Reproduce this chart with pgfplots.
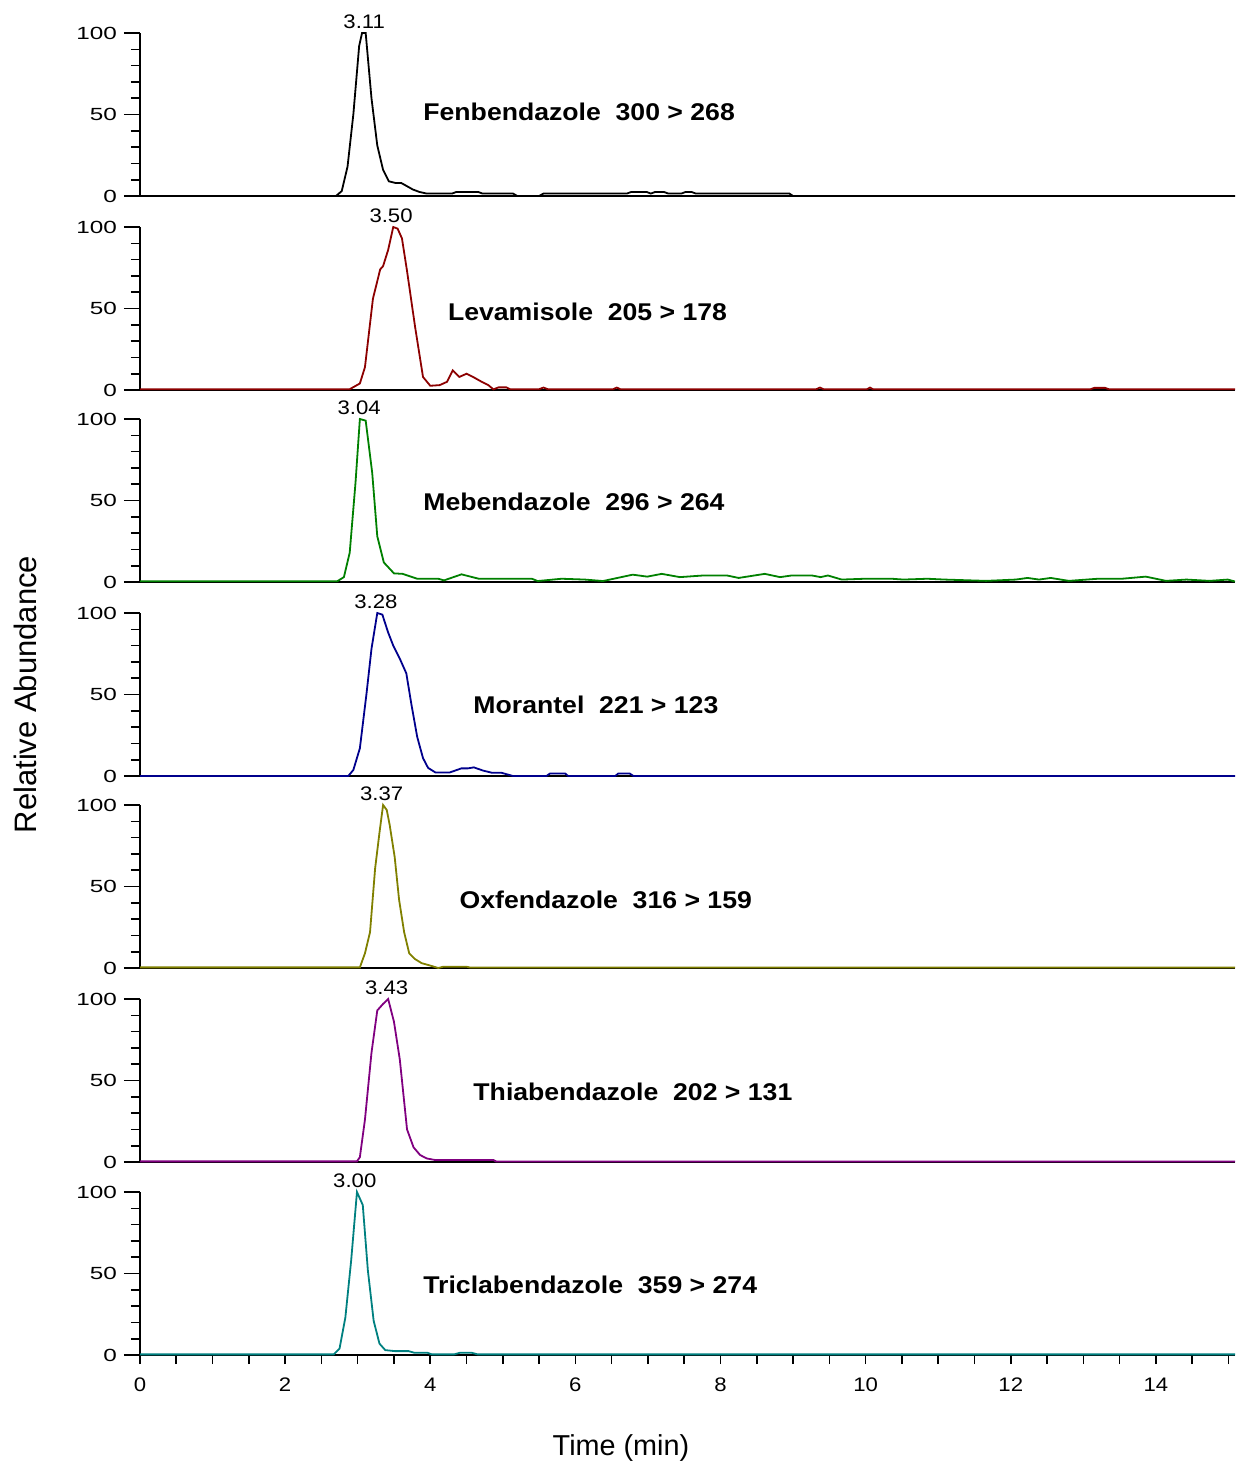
\documentclass[border=0pt]{standalone}
\usepackage{pgfplots}
\pgfplotsset{compat=1.18}
\usepackage{fontspec}
\setmainfont{Liberation Sans}
\newfontfamily\tickfont[FakeStretch=1.38]{Liberation Sans}
\newfontfamily\peakfont[FakeStretch=1.13]{Liberation Sans}
\newfontfamily\namefont[FakeStretch=1.1]{Liberation Sans}

\definecolor{cFen}{RGB}{0,0,0}
\definecolor{cLev}{RGB}{140,0,0}
\definecolor{cMeb}{RGB}{0,128,0}
\definecolor{cMor}{RGB}{0,0,140}
\definecolor{cOxf}{RGB}{128,128,0}
\definecolor{cThi}{RGB}{128,0,128}
\definecolor{cTri}{RGB}{0,128,128}

\pgfplotsset{
  panel/.style={
    scale only axis, width=547.5pt, height=81.5pt,
    xmin=0, xmax=15.09, ymin=0, ymax=100,
    axis x line*=bottom, axis y line*=left,
    axis line style={line width=1pt,-},
    ytick={0,50,100}, minor ytick={10,20,30,40,60,70,80,90},
    tick align=outside,
    major tick length=8pt, minor tick length=4.5pt,
    tick style={line width=0.8pt, black},
    yticklabel style={font=\tickfont\fontsize{8.8}{10}\selectfont},
    xticklabel style={font=\peakfont\fontsize{9.8}{11}\selectfont},
    /pgf/number format/assume math mode=true,
    clip=false,
    anchor=south west,
  },
  notx/.style={xtick=\empty},
  trace/.style={line width=0.9pt, mark=none},
}
\tikzset{
  peak/.style={anchor=south, inner sep=2pt, font=\peakfont\fontsize{9.8}{11}\selectfont},
  cname/.style={anchor=west, inner sep=0pt, font=\namefont\bfseries\fontsize{12.1}{14}\selectfont},
}

\begin{document}
\begin{tikzpicture}
\useasboundingbox (0,0) rectangle (621.5pt,-734pt);

% Panel 1: Fenbendazole
\begin{axis}[panel, notx, at={(70pt,-98pt)}]
\addplot[trace, cFen] coordinates {(0,0)(2.70,0)(2.78,3)(2.86,18)(2.94,50)(3.02,92)(3.06,100)(3.11,100)(3.19,60)(3.27,31)(3.35,16)(3.43,9)(3.52,8)(3.60,8)(3.68,6)(3.76,4)(3.85,2.5)(3.95,1.5)(4.30,1.5)(4.36,2.5)(4.66,2.5)(4.72,1.5)(5.14,1.5)(5.20,0)(5.50,0)(5.56,1.5)(6.71,1.5)(6.77,2.5)(6.98,2.5)(7.04,1.5)(7.10,2.5)(7.22,2.5)(7.28,1.5)(7.46,1.5)(7.52,2.5)(7.60,2.5)(7.66,1.5)(8.95,1.5)(9.00,0)(15.09,0)};
\node[peak] at (axis cs:3.09,100) {3.11};
\node[cname] at (axis cs:3.9,51.5) {Fenbendazole\ \ 300 > 268};
\end{axis}

% Panel 2: Levamisole
\begin{axis}[panel, notx, at={(70pt,-195pt)}]
\addplot[trace, cLev] coordinates {(0,0.5)(2.89,0.5)(3.03,4)(3.10,14)(3.21,56)(3.31,74)(3.35,76)(3.42,86)(3.49,100)(3.55,99)(3.61,93)(3.68,73)(3.79,39)(3.90,8)(4.00,2.6)(4.13,3)(4.23,5)(4.31,12)(4.40,8)(4.50,10)(4.59,8)(4.71,5)(4.80,3)(4.87,0.4)(4.94,1.6)(5.05,1.6)(5.10,0.5)(5.50,0.5)(5.56,1.5)(5.62,0.5)(6.52,0.5)(6.57,1.5)(6.62,0.5)(9.32,0.5)(9.37,1.5)(9.42,0.5)(10.02,0.5)(10.06,1.5)(10.10,0.5)(13.10,0.5)(13.15,1.3)(13.30,1.3)(13.35,0.5)(15.09,0.5)};
\node[peak] at (axis cs:3.46,100) {3.50};
\node[cname] at (axis cs:4.24,48) {Levamisole\ \ 205 > 178};
\end{axis}

% Panel 3: Mebendazole
\begin{axis}[panel, notx, at={(70pt,-291pt)}]
\addplot[trace, cMeb] coordinates {(0,0.5)(2.72,0.5)(2.81,3)(2.89,18)(2.97,61)(3.03,100)(3.11,99)(3.20,67)(3.27,28)(3.36,12)(3.50,5.3)(3.62,5)(3.82,2)(4.11,2)(4.19,1)(4.43,4.7)(4.67,2)(5.40,2)(5.48,0.6)(5.81,2)(6.13,1.5)(6.38,0.6)(6.79,4.5)(6.99,3.3)(7.19,5)(7.44,3)(7.76,4)(8.09,4)(8.25,2.5)(8.61,5)(8.82,3)(8.98,4)(9.26,4)(9.38,3)(9.48,4)(9.67,1.5)(9.99,2)(10.36,2)(10.52,1.5)(10.85,2)(11.09,1.5)(11.66,0.7)(12.07,1.5)(12.23,2.5)(12.39,1.5)(12.55,2.5)(12.80,0.7)(13.20,2)(13.53,2)(13.86,3.3)(14.14,0.7)(14.42,1.5)(14.74,0.7)(14.99,1.5)(15.09,0.3)};
\node[peak] at (axis cs:3.02,100) {3.04};
\node[cname] at (axis cs:3.9,49) {Mebendazole\ \ 296 > 264};
\end{axis}

% Panel 4: Morantel
\begin{axis}[panel, notx, at={(70pt,-388pt)}]
\addplot[trace, cMor] coordinates {(0,0)(2.87,0)(2.94,3.7)(3.03,17)(3.12,50)(3.19,78)(3.27,100)(3.34,99)(3.42,88)(3.49,80)(3.58,72)(3.67,63)(3.74,44)(3.82,24)(3.90,11)(3.97,5)(4.07,2.2)(4.27,2.2)(4.43,4.7)(4.52,4.7)(4.60,5.3)(4.73,3.3)(4.85,2)(4.98,2)(5.14,0)(5.60,0)(5.65,1.5)(5.86,1.5)(5.90,0)(6.55,0)(6.59,1.5)(6.75,1.5)(6.80,0)(15.09,0)};
\node[peak] at (axis cs:3.25,100) {3.28};
\node[cname] at (axis cs:4.59,43.6) {Morantel\ \ 221 > 123};
\end{axis}

% Panel 5: Oxfendazole
\begin{axis}[panel, notx, at={(70pt,-484pt)}]
\addplot[trace, cOxf] coordinates {(0,0.4)(3.03,0.4)(3.10,9)(3.17,22)(3.24,61)(3.30,83)(3.35,100)(3.40,97)(3.44,88)(3.51,68)(3.57,42)(3.64,22)(3.71,9)(3.79,5.5)(3.88,3)(4.00,1.5)(4.11,0)(4.18,0.8)(4.50,0.8)(4.55,0.3)(15.09,0.3)};
\node[peak] at (axis cs:3.33,100) {3.37};
\node[cname] at (axis cs:4.40,41.7) {Oxfendazole\ \ 316 > 159};
\end{axis}

% Panel 6: Thiabendazole
\begin{axis}[panel, notx, at={(70pt,-581pt)}]
\addplot[trace, cThi] coordinates {(0,0.4)(2.99,0.4)(3.03,3)(3.10,26)(3.19,67)(3.27,93)(3.35,97)(3.42,100)(3.50,86)(3.58,63)(3.68,20)(3.77,9)(3.86,4.3)(3.95,2.2)(4.07,1.2)(4.87,1.2)(4.91,0.3)(15.09,0.3)};
\node[peak] at (axis cs:3.40,100) {3.43};
\node[cname] at (axis cs:4.59,43) {Thiabendazole\ \ 202 > 131};
\end{axis}

% Panel 7: Triclabendazole
\begin{axis}[panel, at={(70pt,-677.5pt)},
  xtick={0,2,...,14}, minor xtick={0,0.5,...,15},
  every major x tick/.append style={draw=none}]
\addplot[trace, cTri] coordinates {(0,0.4)(2.67,0.4)(2.75,4)(2.83,23)(2.91,58)(2.99,100)(3.07,92)(3.14,52)(3.22,21)(3.30,7)(3.38,3)(3.51,2.4)(3.70,2.4)(3.78,1.4)(3.96,1.4)(4.02,0.4)(4.33,0.4)(4.41,1.4)(4.57,1.4)(4.65,0.4)(15.09,0.4)};
\node[peak] at (axis cs:2.96,100) {3.00};
\node[cname] at (axis cs:3.9,43) {Triclabendazole\ \ 359 > 274};
\end{axis}

\node[font=\fontsize{14.4}{17}\selectfont] at (310.5pt,-724pt) {Time (min)};
\node[rotate=90, font=\fontsize{15.5}{18}\selectfont] at (12.5pt,-347.25pt) {Relative Abundance};
\end{tikzpicture}
\end{document}
